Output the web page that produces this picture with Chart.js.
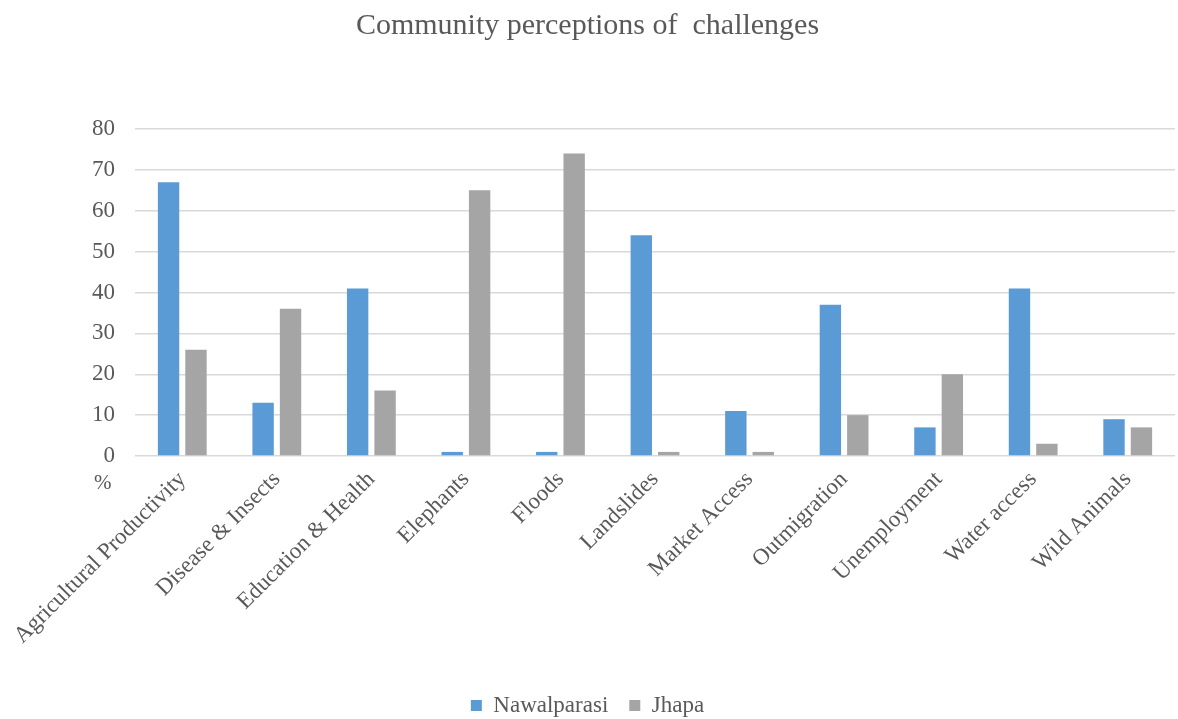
<!doctype html>
<html lang="en">
  <head>
    <meta charset="utf-8">
    <title>Community perceptions of challenges</title>
    <style>
      * { margin: 0; padding: 0; }
      body { background: #fff; }
      .chartBox { width: 1178px; height: 719px; }
    </style>
  </head>
  <body>
    <div class="chartBox">
      <canvas id="myChart" width="1178" height="719"></canvas>
    </div>
    <script src="https://cdn.jsdelivr.net/npm/chart.js"></script>
    <script>
    const categories = ['Agricultural Productivity', 'Disease & Insects', 'Education & Health', 'Elephants', 'Floods',
      'Landslides', 'Market Access', 'Outmigration', 'Unemployment', 'Water access', 'Wild Animals'];
    const nawalparasi = [67, 13, 41, 1, 1, 54, 11, 37, 7, 41, 9];
    const jhapa = [26, 36, 16, 65, 74, 1, 1, 10, 20, 3, 7];
    const yTicks = [0, 10, 20, 30, 40, 50, 60, 70, 80];

    const serif = "'Liberation Serif', 'DejaVu Serif', serif";
    const textGrey = '#595959';

    // "%" sits just under the 0 label, like the original
    const percentLabel = {
      id: 'percentLabel',
      afterDraw(chart) {
        const y = chart.scales.y;
        const ctx = chart.ctx;
        ctx.save();
        ctx.font = '21px ' + serif;
        ctx.fillStyle = textGrey;
        ctx.textAlign = 'left';
        ctx.textBaseline = 'middle';
        ctx.fillText('%', 94, y.bottom + 27);
        ctx.restore();
      }
    };

    const data = {
      labels: categories,
      datasets: [{
        label: 'Nawalparasi',
        data: nawalparasi,
        backgroundColor: '#5B9BD5',
        categoryPercentage: 0.58,
        barPercentage: 0.78
      }, {
        label: 'Jhapa',
        data: jhapa,
        backgroundColor: '#A5A5A5',
        categoryPercentage: 0.58,
        barPercentage: 0.78
      }]
    };

    const config = {
      type: 'bar',
      data,
      plugins: [percentLabel],
      options: {
        responsive: false,
        animation: false,
        layout: { padding: { left: 0, right: 3, top: 0, bottom: -8 } },
        plugins: {
          title: {
            display: true,
            text: 'Community perceptions of  challenges',
            color: textGrey,
            font: { family: serif, size: 30, weight: 'normal' },
            padding: { top: 8, bottom: 85 }
          },
          legend: {
            position: 'bottom',
            labels: {
              color: textGrey,
              font: { family: serif, size: 23 },
              boxWidth: 11,
              boxHeight: 11,
              padding: 21
            }
          },
          tooltip: { enabled: false }
        },
        scales: {
          x: {
            grid: { display: false },
            border: { display: false },
            afterFit(axis) { axis.height = 217; },
            ticks: {
              color: textGrey,
              font: { family: serif, size: 23 },
              minRotation: 45,
              maxRotation: 45,
              autoSkip: false,
              padding: 2
            }
          },
          y: {
            min: 0,
            max: 80,
            afterBuildTicks(axis) {
              axis.ticks = yTicks.map(v => ({ value: v }));
            },
            afterFit(axis) { axis.width = 135; },
            grid: { color: '#d9d9d9', lineWidth: 1.5, drawTicks: false },
            border: { display: false },
            ticks: {
              color: textGrey,
              font: { family: serif, size: 23 },
              padding: 20
            }
          }
        }
      }
    };

    new Chart(document.getElementById('myChart'), config);
    </script>
  </body>
</html>
